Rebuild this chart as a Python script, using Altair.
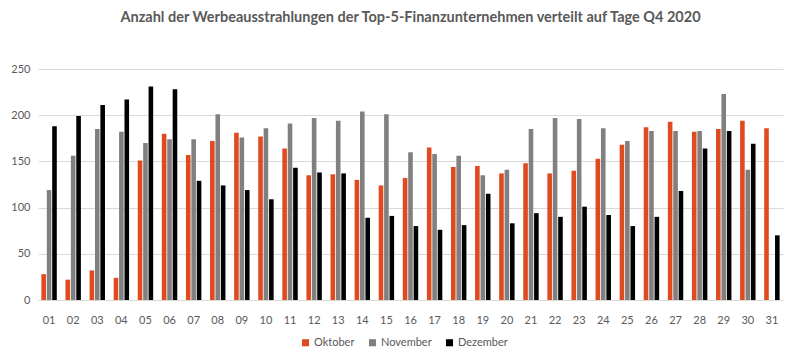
import altair as alt
import pandas as pd

days = [f"{i:02d}" for i in range(1, 32)]
oktober = [28, 22, 32, 24, 151, 180, 157, 172, 181, 177, 164, 135, 136, 130, 124, 132, 165, 144, 145, 137, 148, 137, 140, 153, 168, 187, 193, 182, 185, 194, 186]
november = [119, 156, 185, 182, 170, 174, 174, 201, 176, 186, 191, 197, 194, 204, 201, 160, 158, 156, 135, 141, 185, 197, 196, 186, 172, 183, 183, 183, 223, 141, None]
dezember = [188, 199, 211, 217, 231, 228, 129, 124, 119, 109, 143, 138, 137, 89, 91, 80, 76, 81, 115, 83, 94, 90, 101, 92, 80, 90, 118, 164, 183, 169, 70]
months = ["Oktober", "November", "Dezember"]
colors = ["#E04A1F", "#808080", "#000000"]

rows = []
for m, vals in zip(months, [oktober, november, dezember]):
    for d, v in zip(days, vals):
        if v is not None:
            rows.append({"Tag": d, "Monat": m, "Wert": v})
df = pd.DataFrame(rows)

FONT = "Lato"

chart = alt.Chart(df).mark_bar().encode(
    x=alt.X("Tag:N", sort=days, title=None,
            scale=alt.Scale(paddingInner=0.36, paddingOuter=0.14),
            axis=alt.Axis(labelAngle=0, ticks=False, labelPadding=14, domainColor="#d9d9d9",
                          labelColor="#595959", labelFontSize=11, labelFont=FONT)),
    xOffset=alt.XOffset("Monat:N", sort=months, scale=alt.Scale(paddingInner=0.15)),
    y=alt.Y("Wert:Q", title=None,
            scale=alt.Scale(domain=[0, 250]),
            axis=alt.Axis(values=[0, 50, 100, 150, 200, 250], domain=False, ticks=False,
                          gridColor="#d9d9d9", labelPadding=8, labelColor="#595959",
                          labelFontSize=11, labelFont=FONT)),
    color=alt.Color("Monat:N", sort=months,
                    scale=alt.Scale(domain=months, range=colors),
                    legend=alt.Legend(title=None, orient="none", direction="horizontal",
                                      legendX=262, legendY=268, symbolType="square",
                                      symbolSize=50, symbolStrokeWidth=0, labelFontSize=11,
                                      labelColor="#595959", labelFont=FONT,
                                      columnPadding=12, labelOffset=3)),
).properties(
    width=745,
    height=231,
    title=alt.TitleParams("Anzahl der Werbeausstrahlungen der Top-5-Finanzunternehmen verteilt auf Tage Q4 2020",
                          fontSize=14.5, fontWeight="bold", color="#595959", font=FONT,
                          anchor="middle", offset=38),
    autosize=alt.AutoSizeParams(type="none"),
    padding={"left": 30, "top": 61, "right": 5, "bottom": 54},
).configure_view(stroke=None)

chart.save("out.html", embed_options={"renderer": "svg", "actions": False})
